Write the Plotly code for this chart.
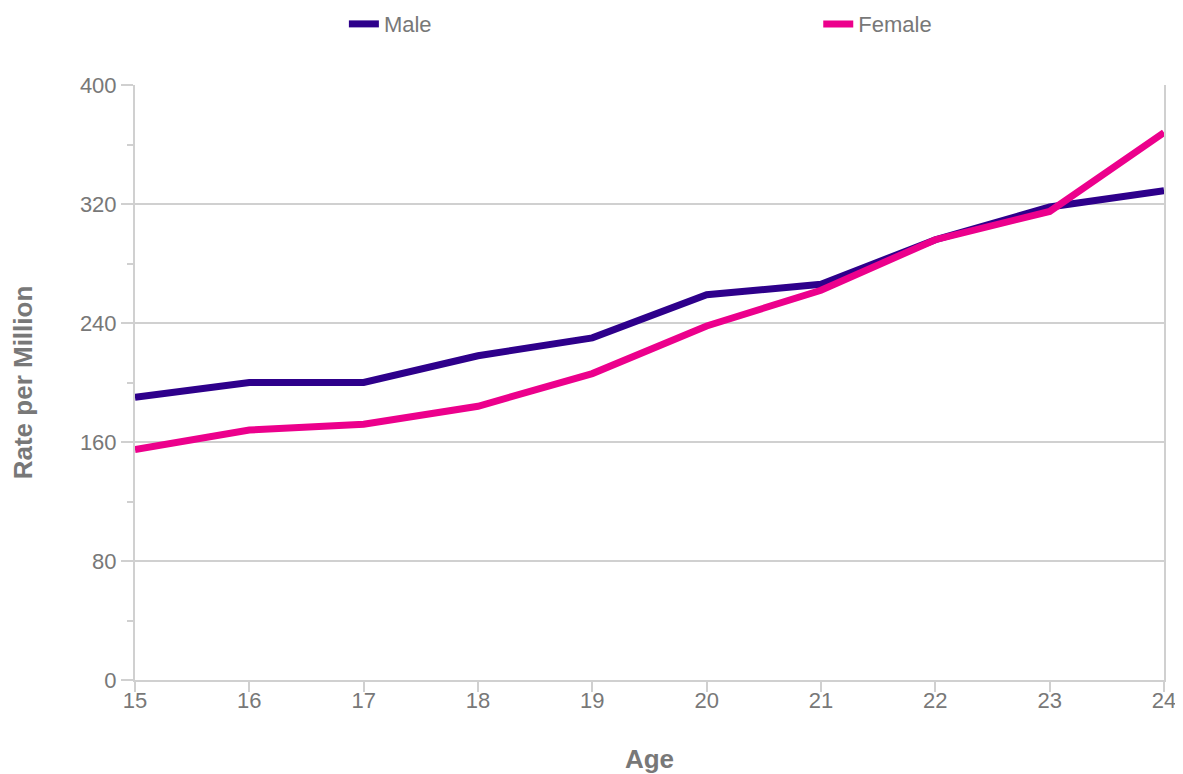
import plotly.graph_objects as go

ages = [15, 16, 17, 18, 19, 20, 21, 22, 23, 24]
male = [190, 200, 200, 218, 230, 259, 266, 296, 318, 329]
female = [155, 168, 172, 184, 206, 238, 262, 296, 315, 368]
y_ticks = [0, 80, 160, 240, 320, 400]

TEXT = "#787878"
GRID = "#d0d0d0"
FONT = "Liberation Sans, Arial, sans-serif"

fig = go.Figure()
fig.add_trace(go.Scatter(x=ages, y=male, name="Male", mode="lines",
                         line=dict(color="#2E008B", width=7), legend="legend"))
fig.add_trace(go.Scatter(x=ages, y=female, name="Female", mode="lines",
                         line=dict(color="#EC008C", width=7), legend="legend2"))

leg_common = dict(orientation="h", y=0.979, yanchor="middle", yref="container",
                  xanchor="left", font=dict(size=22, color=TEXT), itemwidth=30,
                  bgcolor="rgba(0,0,0,0)")

fig.update_layout(
    width=1175, height=766,
    margin=dict(l=127, r=19, t=77, b=94, autoexpand=False),
    paper_bgcolor="white", plot_bgcolor="white",
    font=dict(family=FONT, size=22, color=TEXT),
    legend=dict(x=0.203, **leg_common),
    legend2=dict(x=0.664, **leg_common),
    showlegend=True,
)

fig.update_xaxes(
    range=[15, 24], tickvals=ages, ticktext=[str(a) for a in ages],
    showgrid=False, showline=True, linecolor=GRID, linewidth=2,
    ticks="outside", ticklen=10, tickcolor=GRID, tickwidth=2,
    ticklabelstandoff=-10, automargin=False,
    zeroline=False,
    title=dict(text="<b>Age</b>", font=dict(size=26, color=TEXT), standoff=46),
)
fig.update_yaxes(
    range=[0, 400], tickvals=y_ticks, ticktext=[str(v) for v in y_ticks],
    showgrid=True, gridcolor=GRID, gridwidth=2,
    showline=True, linecolor=GRID, linewidth=2, mirror=True,
    ticks="outside", ticklen=12, tickcolor=GRID, tickwidth=2,
    minor=dict(dtick=40, tick0=0, ticks="outside", ticklen=6, tickcolor=GRID, tickwidth=2, showgrid=False),
    zeroline=False, automargin=False,
    title=dict(text="<b>Rate per Million</b>", font=dict(size=26, color=TEXT), standoff=40),
)

fig.write_html("out.html")
